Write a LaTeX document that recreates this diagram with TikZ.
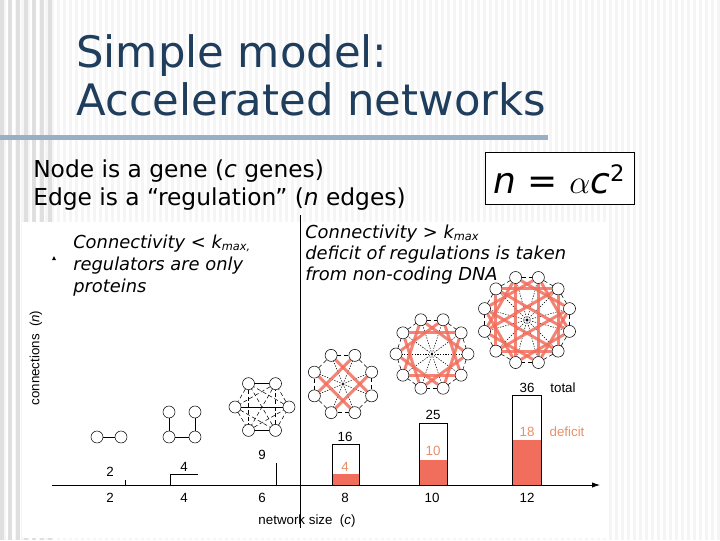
\documentclass[tikz,border=0pt]{standalone}
\usepackage{fontspec}
\setmainfont{Liberation Sans}
\newfontfamily\verd{DejaVu Sans}
\usetikzlibrary{arrows.meta,calc}
\definecolor{titleblue}{HTML}{1F3D5C}
\definecolor{barblue}{HTML}{9AAFC4}
\definecolor{redf}{HTML}{F26E5C}
\definecolor{orangetxt}{HTML}{E8906A}
\begin{document}
\begin{tikzpicture}[x=0.75pt,y=-0.75pt,
  gnode/.style={circle,draw,fill=white,inner sep=0pt,minimum size=9pt,line width=0.4pt},
  dedge/.style={densely dashed,line width=0.4pt},
  redge/.style={redf,line width=2.2pt,opacity=0.85},
  lbl/.style={font=\fontsize{10}{11}\selectfont,inner sep=0pt},
  itxt/.style={font=\verd\itshape\fontsize{13.4}{15}\selectfont,anchor=base west,inner sep=0pt}]
\useasboundingbox (0,0) rectangle (720,540);
\fill[gray!8] (0,0) rectangle (720,540);
\foreach \x in {0,6,...,720} \fill[white] (\x,0) rectangle ++(3,540);
\foreach \x in {0,8,...,48} \fill[gray!25] (\x,0) rectangle ++(4,540);
% title
\node[anchor=base west,inner sep=0pt,text=titleblue,font=\verd\fontsize{32.5}{36}\selectfont] (t1) at (76,67) {Simple model:};
\node[anchor=base west,inner sep=0pt,text=titleblue,font=\verd\fontsize{32.5}{36}\selectfont] (t2) at (76,115) {Accelerated networks};
\fill[barblue] (0,135) rectangle (548,140);
\node[anchor=base west,inner sep=0pt,font=\verd\fontsize{17.5}{18}\selectfont] (l1) at (33,177) {Node is a gene (\textit{c} genes)};
\node[anchor=base west,inner sep=0pt,font=\verd\fontsize{17.5}{18}\selectfont] (l2) at (33,205) {Edge is a “regulation” (\textit{n} edges)};
\draw[line width=0.6pt,fill=white] (485,152) rectangle (634,204);
\node[inner sep=0pt,font=\verd\fontsize{27}{29}\selectfont] (eq) at (559,179) {\textit{n} = $\alpha$\textit{c}\raisebox{9pt}{\fontsize{17}{18}\selectfont 2}};
% panel
\fill[white] (22,222) rectangle (608,538);
\draw[line width=0.5pt] (300,215) -- (300,528);
\node[itxt] (a1) at (73,248) {Connectivity < k\raisebox{-2pt}{\fontsize{8.5}{9}\selectfont max,}};
\node[itxt] (a2) at (73,270) {regulators are only};
\node[itxt] (a3) at (73,292) {proteins};
\fill (52,260) -- (54,256) -- (56,260) -- cycle;
\node[itxt] (b1) at (305,238) {Connectivity > k\raisebox{-2pt}{\fontsize{8.5}{9}\selectfont max}};
\node[itxt] (b2) at (305,259) {deficit of regulations is taken};
\node[itxt] (b3) at (305,280) {from non-coding DNA};
% axes
\coordinate (ax0) at (52,485); \coordinate (ax1) at (600,485);
\draw[line width=0.6pt,-{Latex[length=6pt,width=4pt]}] (ax0) -- (ax1);
\foreach \v/\x in {2/110,4/184,6/262,8/345,10/432,12/527}
  \node[lbl] (tk\v) at (\x,498) {\v};
\node[lbl] (xl) at (307,521) {network size\ \ (\textit{c})};
\node[lbl,rotate=90] (yl) at (36,358) {connections\ \ (\textit{n})};
% left bars
\draw[line width=0.5pt] (125,485) -- (125,480);
\node[lbl] (n2) at (110,472) {2};
\draw[line width=0.5pt] (170,485) -- (170,474) -- (198,474);
\node[lbl] (n4) at (184,467) {4};
\draw[line width=0.5pt] (276,485) -- (276,463);
\node[lbl] (n9) at (262,455) {9};
% right bars
\fill[redf] (332,474) rectangle (359,485);
\draw[line width=0.6pt] (332,485) -- (332,444) -- (359,444) -- (359,485);
\node[lbl] (n16) at (345,437) {16};
\node[lbl,text=orangetxt] (d4) at (345,467) {4};
\fill[redf] (419,460) rectangle (447,485);
\draw[line width=0.6pt] (419,485) -- (419,423) -- (447,423) -- (447,485);
\node[lbl] (n25) at (433,415) {25};
\node[lbl,text=orangetxt] (d10) at (433,451) {10};
\fill[redf] (512,440) rectangle (541,485);
\draw[line width=0.6pt] (512,485) -- (512,395) -- (541,395) -- (541,485);
\node[lbl] (n36) at (527,388) {36};
\node[lbl] (tot) at (563,388) {total};
\node[lbl,text=orangetxt] (d18) at (527,432) {18};
\node[lbl,text=orangetxt] (def) at (567,432) {deficit};
% small networks
\node[gnode] (p1) at (97,437) {}; \node[gnode] (p2) at (121,437) {};
\draw (p1) -- (p2);
\node[gnode] (q1) at (169,412) {}; \node[gnode] (q2) at (195,412) {};
\node[gnode] (q3) at (169,437) {}; \node[gnode] (q4) at (195,437) {};
\draw (q1) -- (q3) -- (q4) -- (q2);
\foreach \i/\a in {1/60,2/0,3/300,4/240,5/180,6/120}
  \node[gnode] (h\i) at ($(262,407)+(\a:27)$) {};
\foreach \i/\j in {1/6,2/5,3/4} \draw[line width=0.4pt] (h\i) -- (h\j);
\foreach \i/\j in {1/2,2/3,4/5,5/6,1/4,3/6,1/3,3/5,5/1,2/4,4/6,6/2}
  \draw[dedge] (h\i) -- (h\j);
% 8-network
\foreach \i in {1,...,8} \node[gnode] (e\i) at ($(343,384)+({22.5+45*\i}:31)$) {};
\foreach \i [evaluate=\i as \j using {int(mod(\i,8)+1)}] in {1,...,8} {\draw[dedge] (e\i) -- (e\j); \draw[dedge,dash pattern=on 1pt off 1pt] (343,384) -- (e\i);}
\foreach \i/\j in {1/4,2/7,3/6,5/8} \draw[redge] (e\i) -- (e\j);
% 10-network
\foreach \i in {1,...,10} \node[gnode] (f\i) at ($(432,354)+({36*\i}:36)$) {};
\foreach \i [evaluate=\i as \j using {int(mod(\i,10)+1)}] in {1,...,10} {\draw[dedge] (f\i) -- (f\j); \draw[dedge,dash pattern=on 1pt off 1pt] (432,354) -- (f\i);}
\foreach \i [evaluate=\i as \j using {int(mod(\i+2,10)+1)}] in {1,...,10} \draw[redge] (f\i) -- (f\j);
% 12-network
\foreach \i in {1,...,12} \node[gnode] (g\i) at ($(527,320)+({15+30*\i}:44)$) {};
\foreach \i [evaluate=\i as \j using {int(mod(\i,12)+1)}] in {1,...,12} {\draw[dedge] (g\i) -- (g\j); \draw[dedge,dash pattern=on 1pt off 1pt] (527,320) -- (g\i);}
\foreach \i [evaluate=\i as \j using {int(mod(\i+2,12)+1)}, evaluate=\i as \k using {int(mod(\i+4,12)+1)}] in {1,...,12} {\draw[redge] (g\i) -- (g\j); \ifodd\i \draw[redge] (g\i) -- (g\k);\fi}
\end{tikzpicture}
\end{document}
